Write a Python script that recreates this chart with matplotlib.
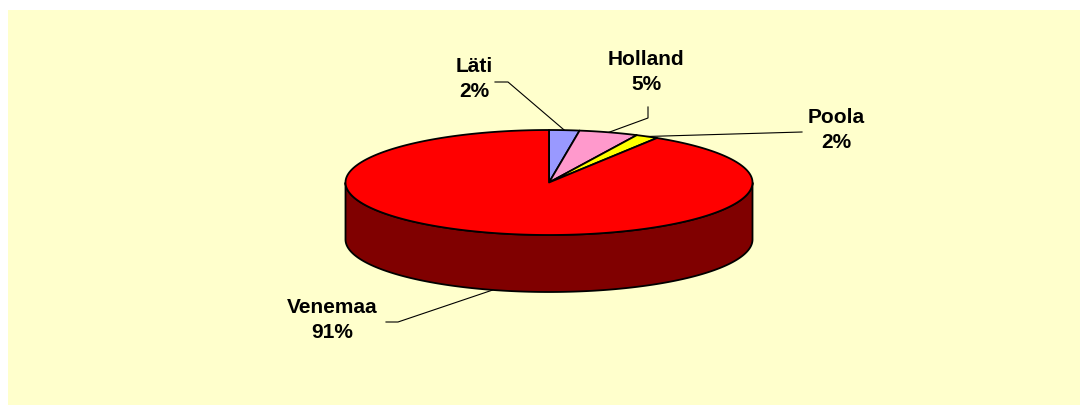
import numpy as np
import matplotlib
matplotlib.use("Agg")
from matplotlib import pyplot as plt
from matplotlib.patches import Polygon, Rectangle

# data
countries = ["Läti", "Holland", "Poola", "Venemaa"]
shares = [2.4, 4.7, 1.8, 91.1]
pct_labels = ["2%", "5%", "2%", "91%"]
colors = ["#9999FF", "#FF99CC", "#FFFF00", "#FF0000"]

# pie geometry (pixels)
cx, cy = 549, 182.5
rx, ry = 203.5, 52.5
depth = 57

plt.rcParams['font.family'] = ['Liberation Sans', 'DejaVu Sans']

fig = plt.figure(figsize=(10.8, 4.05), dpi=100)
ax = fig.add_axes([0, 0, 1, 1])
ax.set_xlim(0, 1080)
ax.set_ylim(405, 0)
ax.axis("off")
fig.patch.set_facecolor("white")

ax.add_patch(Rectangle((8, 10), 1100, 420, facecolor="#FFFFCC", edgecolor="none", zorder=0))


def pt(phi, dy=0.0):
    # phi: degrees clockwise from top
    r = np.radians(phi)
    return cx + rx * np.sin(r), cy - ry * np.cos(r) + dy


fr = np.array(shares) / sum(shares) * 360
starts = np.concatenate([[0], np.cumsum(fr)[:-1]])
ends = np.cumsum(fr)

# side walls (front half only)
for s, e, c in zip(starts, ends, colors):
    lo, hi = max(s, 90), min(e, 270)
    if hi <= lo:
        continue
    phis = np.linspace(lo, hi, 200)
    xt, yt = pt(phis)
    xb, yb = pt(phis[::-1], depth)
    rgb = np.array(matplotlib.colors.to_rgb(c)) * 0.5
    ax.add_patch(Polygon(np.column_stack([np.r_[xt, xb], np.r_[yt, yb]]),
                         closed=True, facecolor=rgb, edgecolor="black", lw=1.3, zorder=2))

# top wedges
for s, e, c in zip(starts, ends, colors):
    phis = np.linspace(s, e, max(int(e - s) * 3, 10))
    xs, ys = pt(phis)
    verts = np.column_stack([np.r_[cx, xs], np.r_[cy, ys]])
    ax.add_patch(Polygon(verts, closed=True, facecolor=c, edgecolor="black",
                         lw=1.3, joinstyle="round", zorder=3))

# labels with leader lines
text_pos = [(474, 79), (646, 72), (836, 130), (332, 320)]
elbows = [[(495, 82), (508, 82)], [(648, 107), (648, 118)], [(802, 132)], [(386, 322), (398, 322)]]
for i, (name, pct) in enumerate(zip(countries, pct_labels)):
    mid = (starts[i] + ends[i]) / 2
    front = 90 < mid < 270
    ax_, ay_ = pt(mid, depth if front else 0)
    path = elbows[i] + [(ax_, ay_)]
    xs, ys = zip(*path)
    ax.plot(xs, ys, color="black", lw=0.8, zorder=4)
    ax.text(text_pos[i][0], text_pos[i][1], name + "\n" + pct, ha="center", va="center",
            fontsize=15, fontweight="bold", linespacing=1.4, zorder=5)

fig.savefig("out.png", dpi=100)
